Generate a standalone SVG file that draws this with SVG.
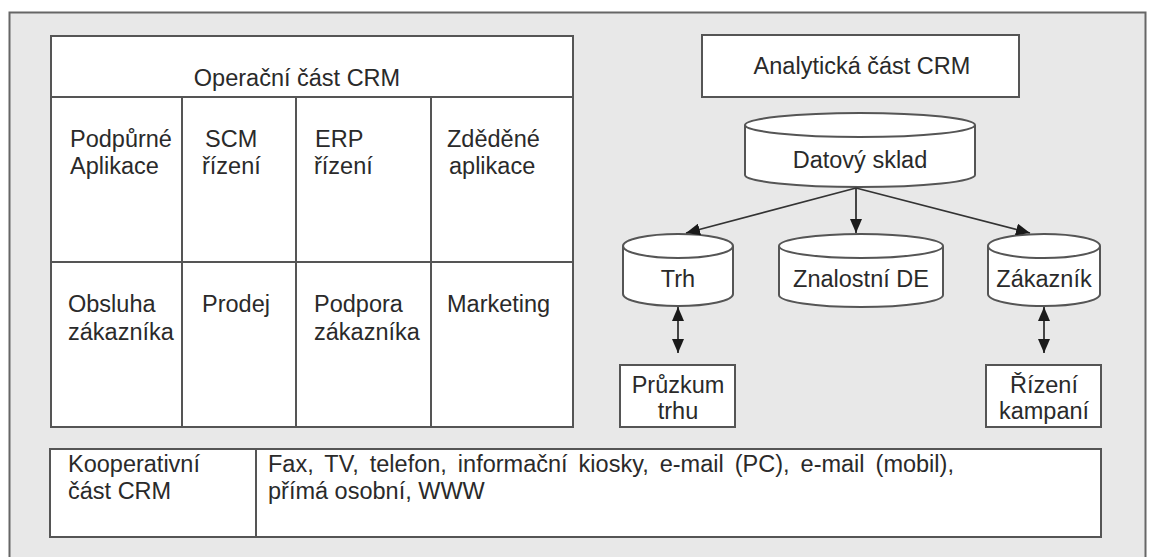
<svg xmlns="http://www.w3.org/2000/svg" width="1149" height="557" viewBox="0 0 1149 557">
  <style>
    .box { fill: #ffffff; stroke: #555555; stroke-width: 2; }
    .line { fill: none; stroke: #555555; stroke-width: 2; }
    .txt { font-family: "Liberation Sans", Arial, sans-serif; font-size: 23.5px; fill: #2a2a2a; }
    .mid { text-anchor: middle; }
    .wide { word-spacing: 4.5px; }
    .conn { fill: none; stroke: #333333; stroke-width: 1.8; }
  </style>
  <defs>
    <marker id="arrow" viewBox="0 0 14 12" refX="14" refY="6" markerWidth="14" markerHeight="12" markerUnits="userSpaceOnUse" orient="auto-start-reverse">
      <path d="M0,0 L14,6 L0,12 z" fill="#1a1a1a"/>
    </marker>
  </defs>

  <!-- page background and outer frame -->
  <rect x="0" y="0" width="1149" height="557" fill="#ffffff"/>
  <rect x="9.5" y="12.5" width="1136" height="560" fill="#e8e8e8" stroke="#666666" stroke-width="2"/>

  <!-- operational CRM table -->
  <g id="operacni-cast">
    <rect class="box" x="51" y="36" width="522" height="391"/>
    <line class="line" x1="51" y1="97" x2="573" y2="97"/>
    <line class="line" x1="51" y1="262" x2="573" y2="262"/>
    <line class="line" x1="182" y1="97" x2="182" y2="427"/>
    <line class="line" x1="296" y1="97" x2="296" y2="427"/>
    <line class="line" x1="431" y1="97" x2="431" y2="427"/>
    <text class="txt mid" x="297" y="86">Operační část CRM</text>
  </g>
  <g id="podpurne-aplikace"><text class="txt" x="70" y="147">Podpůrné</text><text class="txt" x="70" y="174">Aplikace</text></g>
  <g id="scm-rizeni"><text class="txt" x="205" y="147">SCM</text><text class="txt" x="202" y="174">řízení</text></g>
  <g id="erp-rizeni"><text class="txt" x="315" y="147">ERP</text><text class="txt" x="314" y="174">řízení</text></g>
  <g id="zdedene-aplikace"><text class="txt" x="447" y="147">Zděděné</text><text class="txt" x="449" y="174">aplikace</text></g>
  <g id="obsluha-zakaznika"><text class="txt" x="68" y="312">Obsluha</text><text class="txt" x="68" y="340">zákazníka</text></g>
  <g id="prodej"><text class="txt" x="202" y="312">Prodej</text></g>
  <g id="podpora-zakaznika"><text class="txt" x="314" y="312">Podpora</text><text class="txt" x="314" y="340">zákazníka</text></g>
  <g id="marketing"><text class="txt" x="447" y="312">Marketing</text></g>

  <!-- analytical CRM -->
  <g id="analyticka-cast">
    <rect class="box" x="702" y="35" width="317" height="62"/>
    <text class="txt mid" x="862" y="74">Analytická část CRM</text>
  </g>
  <g id="datovy-sklad">
    <path class="box" d="M745,125 A115,12 0 0 1 975,125 L975,175 A115,12 0 0 1 745,175 Z"/>
    <path class="line" d="M745,125 A115,12 0 0 0 975,125"/>
    <text class="txt mid" x="860" y="168">Datový sklad</text>
  </g>
  <g id="trh">
    <path class="box" d="M623,246 A55,12 0 0 1 733,246 L733,294 A55,12 0 0 1 623,294 Z"/>
    <path class="line" d="M623,246 A55,12 0 0 0 733,246"/>
    <text class="txt mid" x="678" y="287">Trh</text>
  </g>
  <g id="znalostni-de">
    <path class="box" d="M779,246 A82,12 0 0 1 943,246 L943,295 A82,12 0 0 1 779,295 Z"/>
    <path class="line" d="M779,246 A82,12 0 0 0 943,246"/>
    <text class="txt mid" x="861" y="287">Znalostní DE</text>
  </g>
  <g id="zakaznik">
    <path class="box" d="M988,246 A56,12 0 0 1 1100,246 L1100,294 A56,12 0 0 1 988,294 Z"/>
    <path class="line" d="M988,246 A56,12 0 0 0 1100,246"/>
    <text class="txt mid" x="1044" y="287">Zákazník</text>
  </g>
  <g id="pruzkum-trhu">
    <rect class="box" x="620" y="365" width="115" height="62"/>
    <text class="txt mid" x="678" y="393">Průzkum</text>
    <text class="txt mid" x="678" y="419">trhu</text>
  </g>
  <g id="rizeni-kampani">
    <rect class="box" x="986" y="365" width="115" height="62"/>
    <text class="txt mid" x="1044" y="393">Řízení</text>
    <text class="txt mid" x="1044" y="419">kampaní</text>
  </g>

  <!-- cooperative CRM -->
  <g id="kooperativni-cast">
    <rect class="box" x="50" y="449" width="1051" height="88"/>
    <line class="line" x1="256" y1="449" x2="256" y2="537"/>
    <text class="txt" x="68" y="472">Kooperativní</text>
    <text class="txt" x="68" y="499">část CRM</text>
  </g>
  <g id="kanaly">
    <text class="txt wide" x="268" y="472">Fax, TV, telefon, informační kiosky, e-mail (PC), e-mail (mobil),</text>
    <text class="txt" x="268" y="499">přímá osobní, WWW</text>
  </g>

  <!-- connectors -->
  <g id="connectors">
    <line class="conn" x1="856" y1="188" x2="686" y2="233" marker-end="url(#arrow)"/>
    <line class="conn" x1="856" y1="188" x2="856" y2="233" marker-end="url(#arrow)"/>
    <line class="conn" x1="856" y1="188" x2="1030" y2="233" marker-end="url(#arrow)"/>
    <line class="conn" x1="678" y1="307" x2="678" y2="353" marker-start="url(#arrow)" marker-end="url(#arrow)"/>
    <line class="conn" x1="1044" y1="307" x2="1044" y2="353" marker-start="url(#arrow)" marker-end="url(#arrow)"/>
  </g>
</svg>
